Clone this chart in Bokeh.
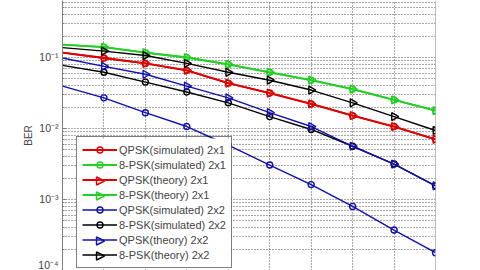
import math
from bokeh.plotting import figure
from bokeh.models import (Range1d, FixedTicker, CustomJSTickFormatter, Legend,
                          LegendItem, Span, PolyAnnotation, BoxAnnotation)
from bokeh.embed import file_html
from bokeh.resources import INLINE

# ---- data ----
snr = [0, 2, 4, 6, 8, 10, 12, 14, 16, 18]

qpsk_sim_2x1 = [0.1173, 0.0984, 0.0825, 0.0660, 0.0435, 0.0316, 0.0222, 0.0152, 0.01066, 0.00703]
psk8_sim_2x1 = [0.1516, 0.1399, 0.1173, 0.1000, 0.0799, 0.0619, 0.0479, 0.0359, 0.0253, 0.0178]
qpsk_th_2x1 = [0.1173, 0.0984, 0.0825, 0.0660, 0.0435, 0.0316, 0.0222, 0.0152, 0.01066, 0.00703]
psk8_th_2x1 = [0.1516, 0.1399, 0.1173, 0.1000, 0.0799, 0.0619, 0.0479, 0.0359, 0.0253, 0.0178]
qpsk_sim_2x2 = [0.0396, 0.0270, 0.0167, 0.01066, 0.00581, 0.00306, 0.00162, 0.000799, 0.000371, 0.000178]
psk8_sim_2x2 = [0.0774, 0.0619, 0.0450, 0.0327, 0.0230, 0.0147, 0.00969, 0.00562, 0.00316, 0.00156]
qpsk_th_2x2 = [0.0984, 0.0750, 0.0581, 0.0396, 0.0270, 0.0167, 0.01066, 0.00562, 0.00316, 0.00156]
psk8_th_2x2 = [0.1377, 0.1231, 0.1066, 0.0825, 0.0619, 0.0479, 0.0348, 0.0230, 0.0147, 0.00938]

labels = ["QPSK(simulated) 2x1", "8-PSK(simulated) 2x1", "QPSK(theory) 2x1",
          "8-PSK(theory) 2x1", "QPSK(simulated) 2x2", "8-PSK(simulated) 2x2",
          "QPSK(theory) 2x2", "8-PSK(theory) 2x2"]
y_ticks = [1e-4, 1e-3, 1e-2, 1e-1]
x_ticks = [0, 2, 4, 6, 8, 10, 12, 14, 16, 18]

series = [qpsk_sim_2x1, psk8_sim_2x1, qpsk_th_2x1, psk8_th_2x1,
          qpsk_sim_2x2, psk8_sim_2x2, qpsk_th_2x2, psk8_th_2x2]

RED, GREEN, BLUE, BLACK = "#E00000", "#22D022", "#1010B0", "#000000"
colors = [RED, GREEN, RED, GREEN, BLUE, BLACK, BLUE, BLACK]
markers = ["circle", "circle", "tri", "tri", "circle", "circle", "tri", "tri"]
widths = [1.8, 1.8, 1.8, 1.8, 1.4, 1.4, 1.4, 1.4]

FONT = "Liberation Sans"

p = figure(width=480, height=270, y_axis_type="log", output_backend="svg",
           toolbar_location=None, x_range=Range1d(0, 18),
           y_range=Range1d(1e-4, 0.635),
           min_border_left=62, min_border_right=45, min_border_top=0,
           min_border_bottom=0)
p.outline_line_color = None
p.background_fill_color = "white"
p.border_fill_color = "white"

p.xaxis.visible = False
p.xaxis.ticker = FixedTicker(ticks=x_ticks)

minor = [m * 10.0 ** k for k in range(-5, 1) for m in range(2, 10)]
p.yaxis.ticker = FixedTicker(ticks=y_ticks, minor_ticks=minor)
p.yaxis.formatter = CustomJSTickFormatter(code="""
const sup = {"-":"\u207b","0":"\u2070","1":"\u00b9","2":"\u00b2","3":"\u00b3",
             "4":"\u2074","5":"\u2075","6":"\u2076","7":"\u2077","8":"\u2078","9":"\u2079"};
const e = Math.round(Math.log10(tick));
return "10" + String(e).split("").map(c => sup[c]).join("");
""")
p.yaxis.axis_label = "BER"
p.yaxis.axis_label_text_font = FONT
p.yaxis.axis_label_text_font_style = "normal"
p.yaxis.axis_label_text_font_size = "10px"
p.yaxis.axis_label_standoff = 1
p.yaxis.major_label_text_font = FONT
p.yaxis.major_label_text_font_size = "10.5px"
p.yaxis.major_label_standoff = 4
p.yaxis.axis_line_color = "#808080"
p.yaxis.major_tick_line_color = "#808080"
p.yaxis.minor_tick_line_color = "#808080"
p.yaxis.major_tick_in = 4
p.yaxis.major_tick_out = 0
p.yaxis.minor_tick_in = 2
p.yaxis.minor_tick_out = 0

for g in (p.xgrid, p.ygrid):
    g.grid_line_color = "#333333"
    g.grid_line_dash = "1 2"
    g.grid_line_alpha = 0.85
p.ygrid.minor_grid_line_color = "#333333"
p.ygrid.minor_grid_line_dash = "1 2"
p.ygrid.minor_grid_line_alpha = 0.85

p.add_layout(Span(location=18, dimension="height", line_color="#808080", line_width=1))

items = []
for lab, ys, col, mk, lw in zip(labels, series, colors, markers, widths):
    lr = p.line(snr, ys, line_color=col, line_width=lw)
    if mk == "circle":
        sr = p.scatter(snr[1:], ys[1:], marker="circle", size=6, line_color=col,
                       fill_color=None, line_width=1.4)
        items.append(LegendItem(label=lab, renderers=[lr, sr]))
    else:
        sr = p.scatter(snr[1:], ys[1:], marker="triangle", angle=-math.pi / 2,
                       size=8, line_color=col, fill_color=None, line_width=1.4)
        items.append(LegendItem(label=lab, renderers=[lr]))

# legend geometry (screen px relative to the frame's bottom-left corner)
LEG_X, LEG_Y, PAD, ROW_H, GLYPH_W, LEG_W = 14, 2, 5, 15, 35, 155
n_items = len(items)
box_top = LEG_Y + 2 * PAD + n_items * ROW_H

# white legend background (drawn under the legend, which is transparent)
p.add_layout(BoxAnnotation(left=LEG_X, right=LEG_X + LEG_W, bottom=LEG_Y, top=box_top,
                           left_units="screen", right_units="screen",
                           bottom_units="screen", top_units="screen",
                           fill_color="white", fill_alpha=1, line_alpha=0))

# right-pointing triangles for the legend entries (Bokeh legends ignore marker angle)
gx = LEG_X + PAD + GLYPH_W / 2 + 1
for i, (col, mk) in enumerate(zip(colors, markers)):
    if mk != "tri":
        continue
    cy = box_top - PAD - ROW_H / 2 - i * ROW_H
    p.add_layout(PolyAnnotation(xs=[gx - 3.5, gx - 3.5, gx + 4.5],
                                ys=[cy + 4, cy - 4, cy],
                                xs_units="screen", ys_units="screen",
                                fill_alpha=0, line_color=col, line_width=1.4,
                                line_alpha=1))

legend = Legend(items=items, location=(LEG_X, LEG_Y), margin=0, padding=PAD,
                spacing=0, label_height=ROW_H, glyph_height=ROW_H,
                glyph_width=GLYPH_W, label_standoff=2, label_text_font=FONT,
                label_text_font_size="11px", border_line_color="black",
                border_line_width=1, background_fill_alpha=0)
p.add_layout(legend)

open("out.html", "w").write(file_html(p, INLINE))
